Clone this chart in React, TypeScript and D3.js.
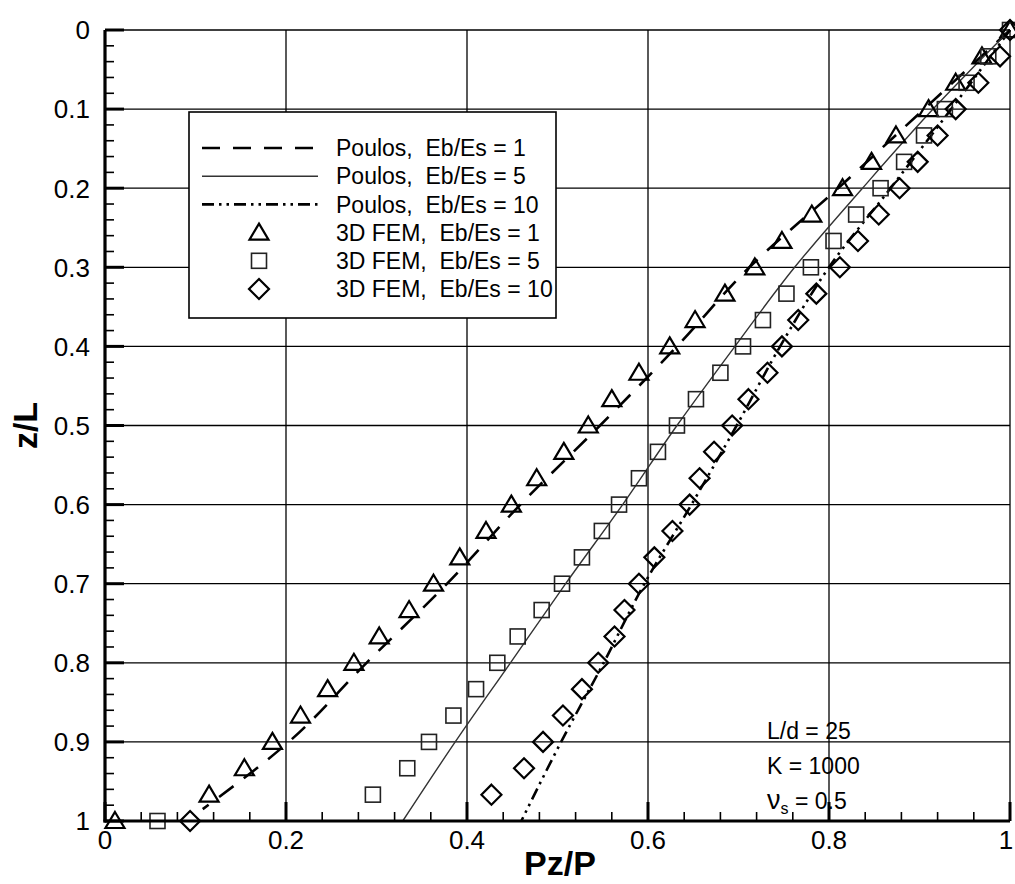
import React from "react";
import * as d3 from "d3";

// FEM node depths z/L (31 nodes)
const zFem = [
  0, 0.0333, 0.0667, 0.1, 0.1333, 0.1667, 0.2, 0.2333, 0.2667, 0.3, 0.3333,
  0.3667, 0.4, 0.4333, 0.4667, 0.5, 0.5333, 0.5667, 0.6, 0.6333, 0.6667, 0.7,
  0.7333, 0.7667, 0.8, 0.8333, 0.8667, 0.9, 0.9333, 0.9667, 1,
];
const femEb1 = [
  1.0, 0.969, 0.94, 0.91, 0.874, 0.847, 0.815, 0.781, 0.748, 0.718, 0.685,
  0.652, 0.624, 0.59, 0.56, 0.534, 0.507, 0.477, 0.449, 0.421, 0.392, 0.363,
  0.336, 0.303, 0.275, 0.246, 0.216, 0.185, 0.154, 0.115, 0.011,
];
const femEb5 = [
  1.0, 0.976, 0.952, 0.928, 0.905, 0.883, 0.857, 0.83, 0.805, 0.78, 0.753,
  0.727, 0.705, 0.68, 0.653, 0.632, 0.611, 0.59, 0.568, 0.549, 0.527, 0.505,
  0.4825, 0.456, 0.4335, 0.41, 0.385, 0.358, 0.334, 0.296, 0.058,
];
const femEb10 = [
  1.0, 0.989, 0.965, 0.94, 0.92, 0.898, 0.878, 0.855, 0.832, 0.812, 0.786,
  0.766, 0.748, 0.732, 0.711, 0.693, 0.673, 0.657, 0.646, 0.627, 0.607, 0.59,
  0.574, 0.563, 0.545, 0.527, 0.506, 0.484, 0.463, 0.427, 0.094,
];

// Poulos solutions
const zPoulos1 = [0, 0.1, 0.2, 0.3, 0.4, 0.5, 0.6, 0.7, 0.8, 0.9, 0.985];
const poulosEb1 = [1.0, 0.905, 0.81, 0.712, 0.632, 0.547, 0.459, 0.378, 0.289, 0.203, 0.108];
const zPoulos = [0, 0.1, 0.2, 0.3, 0.4, 0.5, 0.6, 0.7, 0.8, 0.9, 1.0];
const poulosEb5 = [1.0, 0.915, 0.837, 0.762, 0.696, 0.632, 0.572, 0.509, 0.448, 0.387, 0.329];
const poulosEb10 = [1.0, 0.935, 0.868, 0.8, 0.746, 0.698, 0.648, 0.596, 0.551, 0.504, 0.46];

const xTicks = [0, 0.2, 0.4, 0.6, 0.8, 1];
const xTickLabels = ["0", "0.2", "0.4", "0.6", "0.8", "1"];
const yTicks = [0, 0.1, 0.2, 0.3, 0.4, 0.5, 0.6, 0.7, 0.8, 0.9, 1];
const yTickLabels = ["0", "0.1", "0.2", "0.3", "0.4", "0.5", "0.6", "0.7", "0.8", "0.9", "1"];

const legendLabels = [
  "Poulos,\u00a0 Eb/Es = 1",
  "Poulos,\u00a0 Eb/Es = 5",
  "Poulos,\u00a0 Eb/Es = 10",
  "3D FEM,\u00a0 Eb/Es = 1",
  "3D FEM,\u00a0 Eb/Es = 5",
  "3D FEM,\u00a0 Eb/Es = 10",
];

const W = 1015;
const H = 884;
const font = "Liberation Sans, Arial, Helvetica, sans-serif";

const lineStyles = [
  { stroke: "#000", width: 2.6, dash: "18,13" },
  { stroke: "#333", width: 1.4, dash: "none" },
  { stroke: "#000", width: 2.6, dash: "12,5,2.5,5,2.5,5" },
];

const marker = (type: string, cx: number, cy: number, key?: any) => {
  if (type === "tri") {
    const d = `M${cx},${cy - 9}L${cx + 9.5},${cy + 7}L${cx - 9.5},${cy + 7}Z`;
    return <path key={key} d={d} fill="none" stroke="#000" strokeWidth={2.2} />;
  }
  if (type === "sq") {
    return (
      <rect key={key} x={cx - 7.5} y={cy - 7.5} width={15} height={15}
        fill="none" stroke="#222" strokeWidth={1.6} />
    );
  }
  const r = 10;
  const d = `M${cx},${cy - r}L${cx + r},${cy}L${cx},${cy + r}L${cx - r},${cy}Z`;
  return <path key={key} d={d} fill="none" stroke="#000" strokeWidth={2.2} />;
};

export default function App() {
  const x = d3.scaleLinear().domain([0, 1]).range([105, 1010]);
  const y = d3.scaleLinear().domain([0, 1]).range([30, 821]);

  const line = d3
    .line<[number, number]>()
    .x((d) => x(d[0]))
    .y((d) => y(d[1]))
    .curve(d3.curveMonotoneY);

  const curves = [
    d3.zip(poulosEb1, zPoulos1) as [number, number][],
    d3.zip(poulosEb5, zPoulos) as [number, number][],
    d3.zip(poulosEb10, zPoulos) as [number, number][],
  ];
  const femSeries = [
    { type: "tri", xs: femEb1 },
    { type: "sq", xs: femEb5 },
    { type: "dia", xs: femEb10 },
  ];

  const xMinor = d3.range(0, 1.0001, 0.04);
  const yMinor = d3.range(0, 1.0001, 0.02);

  const legend = { x0: 189, y0: 112, x1: 556, y1: 318 };
  const legendRowY = (i: number) => 148 + i * 28.2;

  return (
    <svg width={W} height={H} style={{ position: "absolute", left: 0, top: 0, background: "#fff" }}>
      <rect width={W} height={H} fill="#fff" />
      {/* grid */}
      {yTicks.map((t) => (
        <line key={"gy" + t} x1={x(0)} x2={x(1)} y1={y(t)} y2={y(t)} stroke="#000" strokeWidth={1.3} />
      ))}
      {xTicks.map((t) => (
        <line key={"gx" + t} x1={x(t)} x2={x(t)} y1={y(0)} y2={y(1)} stroke="#000" strokeWidth={1.3} />
      ))}

      {/* Poulos curves */}
      {curves.map((c, i) => (
        <path key={"c" + i} d={line(c) || ""} fill="none" stroke={lineStyles[i].stroke}
          strokeWidth={lineStyles[i].width} strokeDasharray={lineStyles[i].dash} />
      ))}

      {/* FEM markers */}
      {femSeries.map((s) =>
        s.xs.map((v, i) => marker(s.type, x(v), y(zFem[i]), s.type + i))
      )}

      {/* axes */}
      <line x1={x(0)} x2={x(0)} y1={y(0)} y2={y(1) + 1.5} stroke="#000" strokeWidth={3.2} />
      <line x1={x(0) - 1.5} x2={x(1)} y1={y(1)} y2={y(1)} stroke="#000" strokeWidth={3.2} />
      {yMinor.map((t, i) => (
        <line key={"ym" + i} x1={x(0)} x2={x(0) + (i % 5 === 0 ? 19 : 9)} y1={y(t)} y2={y(t)}
          stroke="#000" strokeWidth={i % 5 === 0 ? 3 : 1.6} />
      ))}
      {xMinor.map((t, i) => (
        <line key={"xm" + i} x1={x(t)} x2={x(t)} y1={y(1)} y2={y(1) - (i % 5 === 0 ? 19 : 9)}
          stroke="#000" strokeWidth={i % 5 === 0 ? 3 : 1.6} />
      ))}

      {/* tick labels */}
      {yTicks.map((t, i) => (
        <text key={"yl" + t} x={90} y={y(t)} dy="0.36em" textAnchor="end" fontFamily={font} fontSize={26}>
          {yTickLabels[i]}
        </text>
      ))}
      {xTicks.map((t, i) => (
        <text key={"xl" + t} x={t === 1 ? x(t) - 4 : x(t)} y={849} textAnchor="middle" fontFamily={font} fontSize={26}>
          {xTickLabels[i]}
        </text>
      ))}

      {/* axis titles */}
      <text x={560} y={875} textAnchor="middle" fontFamily={font} fontSize={34} fontWeight="bold">Pz/P</text>
      <text transform={`translate(37,${y(0.5)}) rotate(-90)`} textAnchor="middle" fontFamily={font}
        fontSize={34} fontWeight="bold">z/L</text>

      {/* legend */}
      <rect x={legend.x0} y={legend.y0} width={legend.x1 - legend.x0} height={legend.y1 - legend.y0}
        fill="#fff" stroke="#000" strokeWidth={1.6} />
      {lineStyles.map((s, i) => (
        <line key={"ll" + i} x1={202} x2={318} y1={legendRowY(i)} y2={legendRowY(i)}
          stroke={s.stroke} strokeWidth={s.width} strokeDasharray={s.dash} />
      ))}
      {femSeries.map((s, i) => marker(s.type, 259, legendRowY(i + 3), "lm" + i))}
      {legendLabels.map((l, i) => (
        <text key={"lt" + i} x={336} y={legendRowY(i)} dy="0.36em" fontFamily={font} fontSize={23}>
          {l}
        </text>
      ))}

      {/* annotation */}
      <text x={767} y={739} fontFamily={font} fontSize={23}>L/d = 25</text>
      <text x={767} y={774} fontFamily={font} fontSize={23}>K = 1000</text>
      <text x={767} y={809} fontFamily={font} fontSize={23}>
        <tspan fontSize={27}>ν</tspan>
        <tspan fontSize={16} dy={5}>s</tspan>
        <tspan dy={-5}> = 0.5</tspan>
      </text>
    </svg>
  );
}
